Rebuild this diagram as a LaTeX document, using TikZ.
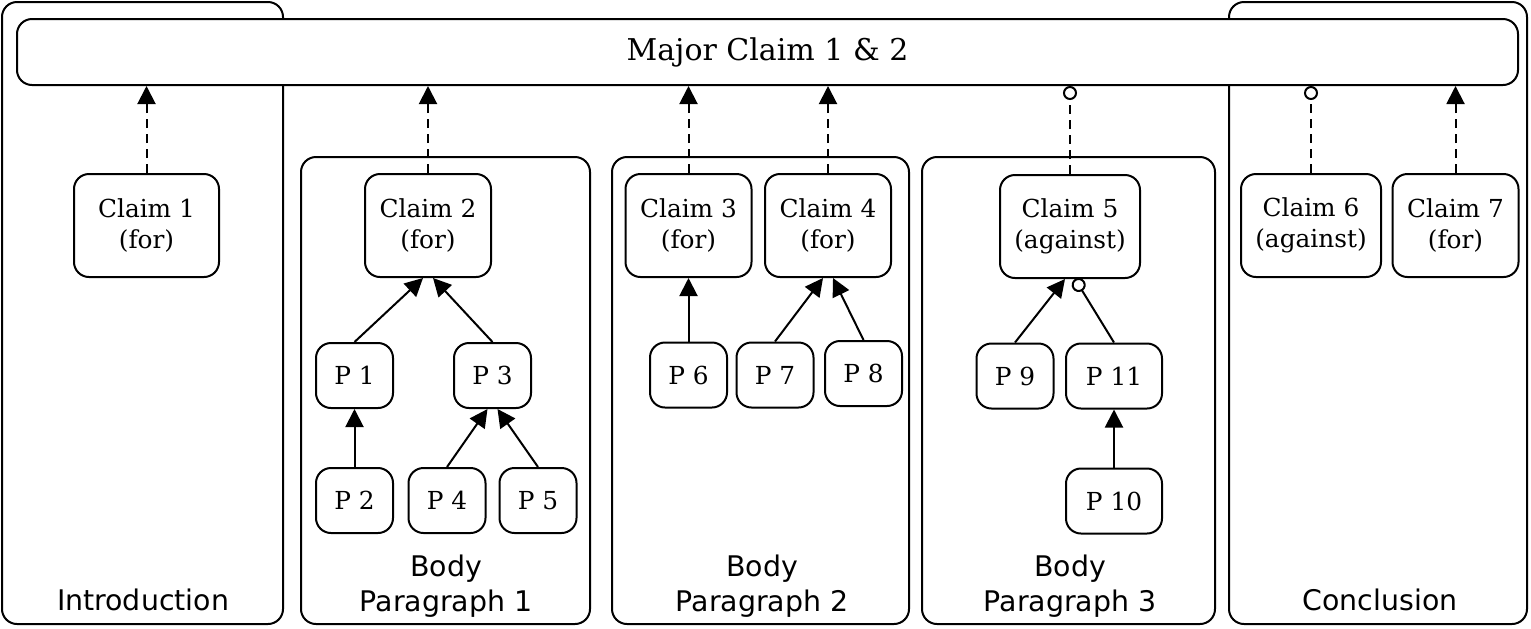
\documentclass[tikz,border=0pt]{standalone}
\usepackage{fontspec}
\setmainfont{DejaVu Serif}
\newfontfamily\labelfont{DejaVu Sans}
\usetikzlibrary{arrows.meta}

\begin{document}
\begin{tikzpicture}[x=0.5pt,y=-0.5pt,line width=1pt,
  frame/.style={rounded corners=7.5pt},
  claimbox/.style={draw,rounded corners=7.5pt,align=center,minimum width=63pt,minimum height=51.5pt,font=\fontsize{12.4}{15.5}\selectfont},
  pbox/.style={draw,rounded corners=7.5pt,minimum width=38.5pt,minimum height=32.5pt,font=\fontsize{12.4}{15.5}\selectfont},
  seclabel/.style={align=center,font=\labelfont\fontsize{14.2}{17.5}\selectfont},
  sup/.style={-{Triangle[width=9pt,length=9pt]}},
  att/.style={-{Circle[open,fill=white,length=7pt]}},
  link/.style={dash pattern=on 4.5pt off 3pt}]
 \useasboundingbox (0,0) rectangle (1531,628);
 % frames
 \draw[frame] (2,2) rectangle (283,624);
 \draw[frame] (1229,2) rectangle (1527,624);
 \draw[frame] (301,157) rectangle (590,624);
 \draw[frame] (612,157) rectangle (909,624);
 \draw[frame] (922,157) rectangle (1215,624);
 \node[draw,fill=white,rounded corners=7.5pt,minimum width=750.5pt,minimum height=33pt,font=\fontsize{15}{18}\selectfont] (mc) at (767.5,52) {Major Claim 1 \& 2};
 % section labels
 \node[seclabel] (intro) at (143,600) {Introduction};
 \node[seclabel] (body1) at (446,586) {Body\\Paragraph 1};
 \node[seclabel] (body2) at (762,586) {Body\\Paragraph 2};
 \node[seclabel] (body3) at (1070,586) {Body\\Paragraph 3};
 \node[seclabel] (concl) at (1380,600) {Conclusion};
 % claims
 \node[claimbox,minimum width=72.5pt] (c1) at (146.5,225.5) {Claim 1\\(for)};
 \node[claimbox] (c2) at (428,225.5) {Claim 2\\(for)};
 \node[claimbox] (c3) at (688.5,225.5) {Claim 3\\(for)};
 \node[claimbox] (c4) at (828,225.5) {Claim 4\\(for)};
 \node[claimbox,minimum width=70pt] (c5) at (1070,226.5) {Claim 5\\(against)};
 \node[claimbox,minimum width=70pt] (c6) at (1311,225.5) {Claim 6\\(against)};
 \node[claimbox] (c7) at (1455.5,225.5) {Claim 7\\(for)};
 % premises
 \node[pbox] (p1) at (354.5,375.5) {P 1};
 \node[pbox] (p2) at (354.5,500.5) {P 2};
 \node[pbox] (p3) at (492.5,375.5) {P 3};
 \node[pbox] (p4) at (447,500.5) {P 4};
 \node[pbox] (p5) at (538,500.5) {P 5};
 \node[pbox] (p6) at (688.5,375) {P 6};
 \node[pbox] (p7) at (775,375) {P 7};
 \node[pbox] (p8) at (863.5,373.5) {P 8};
 \node[pbox] (p9) at (1015,376) {P 9};
 \node[pbox,minimum width=48pt] (p11) at (1114,376) {P 11};
 \node[pbox,minimum width=48pt] (p10) at (1114,501) {P 10};
 % claims to major claim
 \foreach \c in {c1,c2,c3,c4,c7}
   \draw[link,sup] (\c.north) -- (\c.north |- mc.south);
 \foreach \c in {c5,c6}
   \draw[link,att] (\c.north) -- (\c.north |- mc.south);
 % premises
 \draw[sup] (p1.north) -- ([xshift=-2.5pt]c2.south);
 \draw[sup] (p3.north) -- ([xshift=2.5pt]c2.south);
 \draw[sup] (p2) -- (p1);
 \draw[sup] (p4.north) -- ([xshift=-2.5pt]p3.south);
 \draw[sup] (p5.north) -- ([xshift=2.5pt]p3.south);
 \draw[sup] (p6) -- (c3);
 \draw[sup] (p7.north) -- ([xshift=-2.5pt]c4.south);
 \draw[sup] (p8.north) -- ([xshift=2.5pt]c4.south);
 \draw[sup] (p9.north) -- ([xshift=-2.5pt]c5.south);
 \draw[att] (p11.north) -- ([xshift=2.5pt]c5.south);
 \draw[sup] (p10) -- (p11);
\end{tikzpicture}
\end{document}
